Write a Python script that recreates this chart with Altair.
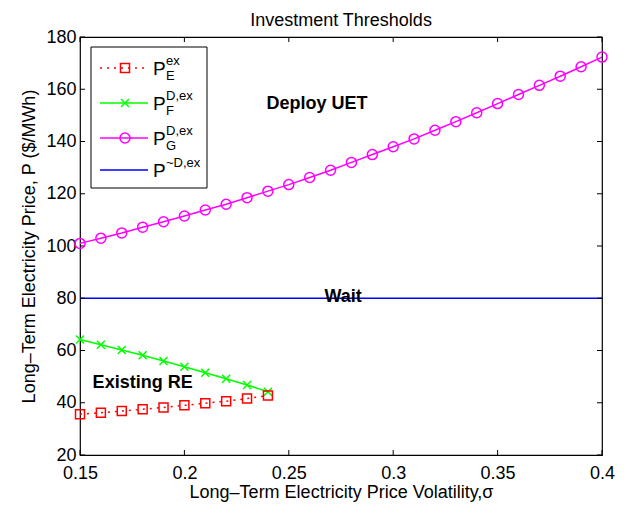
import altair as alt
import pandas as pd

# ---- data ----
sigma_g = [0.15, 0.16, 0.17, 0.18, 0.19, 0.20, 0.21, 0.22, 0.23, 0.24, 0.25, 0.26, 0.27,
           0.28, 0.29, 0.30, 0.31, 0.32, 0.33, 0.34, 0.35, 0.36, 0.37, 0.38, 0.39, 0.40]
p_g = [101.0, 103.0, 105.0, 107.2, 109.3, 111.5, 113.8, 116.0, 118.5, 121.0, 123.5, 126.2, 129.0,
       132.0, 135.0, 138.0, 141.0, 144.3, 147.6, 151.0, 154.5, 158.0, 161.5, 165.0, 168.6, 172.3]
sigma_fe = [0.15, 0.16, 0.17, 0.18, 0.19, 0.20, 0.21, 0.22, 0.23, 0.24]
p_f = [64.2, 62.2, 60.2, 58.2, 56.0, 53.8, 51.5, 49.2, 46.8, 44.2]
p_e = [35.6, 36.2, 36.8, 37.5, 38.2, 39.0, 39.8, 40.6, 41.6, 42.8]
sigma_w = [0.15, 0.40]
p_w = [80.0, 80.0]

x_ticks = [0.15, 0.2, 0.25, 0.3, 0.35, 0.4]
y_ticks = [20, 40, 60, 80, 100, 120, 140, 160, 180]

ann_text = ["Deploy UET", "Wait", "Existing RE"]
ann_x = [0.2635, 0.276, 0.180]
ann_y = [154.5, 80.5, 47.5]

FONT = "Liberation Sans"
RED, GREEN, MAGENTA, BLUE = "#ff0000", "#00ff00", "#ff00ff", "#0000ff"
W, H = 522, 418

df_g = pd.DataFrame({"s": sigma_g, "p": p_g})
df_f = pd.DataFrame({"s": sigma_fe, "p": p_f})
df_e = pd.DataFrame({"s": sigma_fe, "p": p_e})
df_w = pd.DataFrame({"s": sigma_w, "p": p_w})
df_ann = pd.DataFrame({"s": ann_x, "p": ann_y, "t": ann_text})
df_xt = pd.DataFrame({"s": x_ticks})
df_yt = pd.DataFrame({"p": y_ticks})
one = pd.DataFrame({"k": [0]})

xs = alt.Scale(domain=[0.15, 0.4], nice=False, zero=False)
ys = alt.Scale(domain=[20, 180], nice=False, zero=False)

# main labelled axes (identical on every layer so they merge into one)
x_main = alt.Axis(orient="bottom", values=x_ticks, format=".2~f", ticks=False, tickSize=0,
                  domain=False, grid=False, labelFont=FONT, labelFontSize=18, labelColor="#000",
                  labelPadding=9, labelFlush=False,
                  title="Long\u2013Term Electricity Price Volatility,\u03c3",
                  titleFont=FONT, titleFontSize=18, titleFontWeight="normal", titleColor="#000",
                  titlePadding=1)
y_main = alt.Axis(orient="left", values=y_ticks, ticks=False, tickSize=0, domain=False, grid=False,
                  labelFont=FONT, labelFontSize=18, labelColor="#000", labelPadding=4,
                  labelFlush=False,
                  title="Long\u2013Term Electricity Price, P ($/MWh)",
                  titleFont=FONT, titleFontSize=18, titleFontWeight="normal", titleColor="#000",
                  titlePadding=7)


def xe():
    return alt.X("s:Q", scale=xs, axis=x_main)


def ye():
    return alt.Y("p:Q", scale=ys, axis=y_main)


# inward tick marks (MATLAB style), placed through the scales
tick_kw = dict(color="#000", strokeWidth=1)
xt_bottom = alt.Chart(df_xt).mark_rule(**tick_kw).encode(x=xe(), y=alt.value(H - 5), y2=alt.value(H))
xt_top = alt.Chart(df_xt).mark_rule(**tick_kw).encode(x=xe(), y=alt.value(0), y2=alt.value(5))
yt_left = alt.Chart(df_yt).mark_rule(**tick_kw).encode(y=ye(), x=alt.value(0), x2=alt.value(5))
yt_right = alt.Chart(df_yt).mark_rule(**tick_kw).encode(y=ye(), x=alt.value(W - 5), x2=alt.value(W))

# series
wait_line = alt.Chart(df_w).mark_line(color=BLUE, strokeWidth=1.6).encode(x=xe(), y=ye())
g_line = alt.Chart(df_g).mark_line(color=MAGENTA, strokeWidth=1.5).encode(x=xe(), y=ye())
g_pts = alt.Chart(df_g).mark_point(shape="circle", color=MAGENTA, filled=False, size=100,
                                   strokeWidth=1.5, opacity=1).encode(x=xe(), y=ye())
f_line = alt.Chart(df_f).mark_line(color=GREEN, strokeWidth=1.5).encode(x=xe(), y=ye())
f_pts = alt.Chart(df_f).mark_point(shape="M-1,-1L1,1M-1,1L1,-1", color=GREEN, filled=False,
                                   size=64, strokeWidth=1.5, opacity=1).encode(x=xe(), y=ye())
e_line = alt.Chart(df_e).mark_line(color=RED, strokeWidth=1.5, strokeDash=[2, 5]).encode(
    x=xe(), y=ye())
e_pts = alt.Chart(df_e).mark_point(shape="square", color=RED, filled=False, size=81,
                                   strokeWidth=1.5, opacity=1).encode(x=xe(), y=ye())

ann = alt.Chart(df_ann).mark_text(font=FONT, fontSize=18, fontWeight="bold", color="#000",
                                  align="center", baseline="middle").encode(
    x=xe(), y=ye(), text="t:N")

# ---- hand-made legend (needs sub/superscripts) ----
legend_box = alt.Chart(one).mark_rect(fill="white", stroke="#000", strokeWidth=1).encode(
    x=alt.value(11), x2=alt.value(127), y=alt.value(10), y2=alt.value(151))

rows = [31, 66, 101, 133]
leg_layers = [legend_box]
styles = [
    (RED, [2, 5], "square", 81),
    (GREEN, None, "M-1,-1L1,1M-1,1L1,-1", 64),
    (MAGENTA, None, "circle", 100),
    (BLUE, None, None, None),
]
sups = ["ex", "D,ex", "D,ex", "~D,ex"]
subs = ["E", "F", "G", ""]
for r, (col, dash, shp, sz), sup, sub in zip(rows, styles, sups, subs):
    kw = dict(color=col, strokeWidth=1.5)
    if dash:
        kw["strokeDash"] = dash
    leg_layers.append(alt.Chart(one).mark_rule(**kw).encode(
        x=alt.value(20), x2=alt.value(68), y=alt.value(r)))
    if shp:
        leg_layers.append(alt.Chart(one).mark_point(shape=shp, color=col, filled=False, size=sz,
                                                    strokeWidth=1.5, opacity=1).encode(
            x=alt.value(45), y=alt.value(r)))
    leg_layers.append(alt.Chart(one).mark_text(text="P", font=FONT, fontSize=19, color="#000",
                                               align="left", baseline="alphabetic").encode(
        x=alt.value(73), y=alt.value(r + 7)))
    leg_layers.append(alt.Chart(one).mark_text(text=sup, font=FONT, fontSize=13, color="#000",
                                               align="left", baseline="alphabetic").encode(
        x=alt.value(86), y=alt.value(r - 3)))
    if sub:
        leg_layers.append(alt.Chart(one).mark_text(text=sub, font=FONT, fontSize=13,
                                                   color="#000", align="left",
                                                   baseline="alphabetic").encode(
            x=alt.value(86), y=alt.value(r + 12)))

chart = alt.layer(
    wait_line, xt_bottom, xt_top, yt_left, yt_right,
    g_line, g_pts, f_line, f_pts, e_line, e_pts, ann, *leg_layers
).properties(
    width=W, height=H,
    padding={"left": 72, "top": 29, "right": 22, "bottom": 48},
    autosize=alt.AutoSizeParams(type="none"),
    title=alt.TitleParams("Investment Thresholds", font=FONT, fontSize=18, fontWeight="normal",
                          color="#000", anchor="middle", offset=-2),
    background="white",
).configure_view(stroke="#000", strokeWidth=1.2)

chart.save("out.html", embed_options={"renderer": "svg", "actions": False})
